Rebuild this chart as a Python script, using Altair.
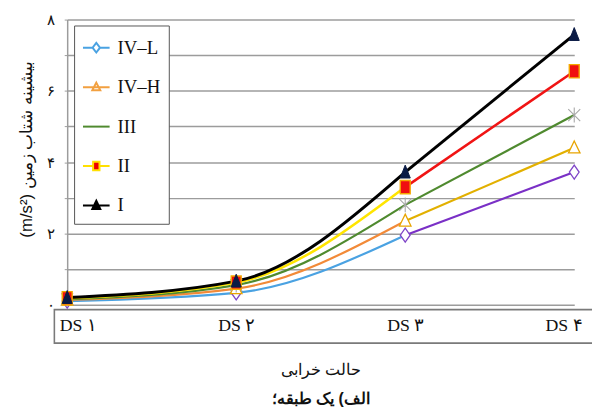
import json
import altair as alt
import pandas as pd

# ---------------- data ----------------
ds_labels = ["DS ۱", "DS ۲", "DS ۳", "DS ۴"]
series_names = ["IV–L", "IV–H", "III", "II", "I"]
values_IVL = [0.10, 0.33, 1.95, 3.72]
values_IVH = [0.13, 0.45, 2.35, 4.40]
values_III = [0.15, 0.55, 2.80, 5.32]
values_II = [0.18, 0.62, 3.30, 6.55]
values_I = [0.20, 0.66, 3.72, 7.58]
y_tick_values = [0, 1, 2, 3, 4, 5, 6, 7, 8]
y_tick_labels = ["۰", "", "۲", "", "۴", "", "۶", "", "۸"]

x_title = "حالت خرابی"
y_title = "\u202bبیشینه شتاب زمین (m/s²)\u202c"
caption = "الف) یک طبقه؛"

series_values = {
    "IV–L": values_IVL,
    "IV–H": values_IVH,
    "III": values_III,
    "II": values_II,
    "I": values_I,
}

# ---------------- styles ----------------
color_early = {"IV–L": "#4aa2e2", "IV–H": "#f28a38", "III": "#4f8a2f", "II": "#ffe500", "I": "#000000"}
color_late = {"IV–L": "#7a30c6", "IV–H": "#e2b000", "III": "#4f8a2f", "II": "#f01414", "I": "#000000"}
line_width = {"IV–L": 2.2, "IV–H": 2.2, "III": 2.2, "II": 2.6, "I": 3.0}
marker_style = {
    "IV–L": dict(shape="M0,-1L0.7,0L0,1L-0.7,0Z", fill="#ffffff", stroke="#7f45c8", size=200, strokeWidth=1.3),
    "IV–H": dict(shape="M0,-1L0.85,0.75L-0.85,0.75Z", fill="#ffffff", stroke="#e8a400", size=190, strokeWidth=1.3),
    "III": dict(shape="M-0.8,-0.8L0.8,0.8M-0.8,0.8L0.8,-0.8M0,-1L0,1", fill="transparent", stroke="#a8a8a8", size=230, strokeWidth=1.1),
    "II": dict(shape="M-0.75,-1H0.75V1H-0.75Z", fill="#f01010", stroke="#f5a800", size=180, strokeWidth=1.4),
    "I": dict(shape="M0,-1L0.72,0.85L-0.72,0.85Z", fill="#0b1b45", stroke="#0b1b45", size=200, strokeWidth=1.0),
}
legend_paths = [
    "M-1,0H-0.28M0.28,0H1M0,-0.36L0.28,0L0,0.36L-0.28,0Z",
    "M-1,0H1M0,-0.34L0.3,0.24L-0.3,0.24Z",
    "M-1,0H1",
    "M-1,0H-0.24M0.24,0H1M-0.24,-0.32H0.24V0.32H-0.24Z",
    "M-1,0H1M0,-0.36L0.3,0.26L-0.3,0.26Z",
]
legend_strokes = ["#4aa2e2", "#f2a040", "#4f8a2f", "#ffe000", "#000000"]
legend_fills = ["#ffffff", "#ffffff", "transparent", "#ee0000", "#000000"]

W, H = 514, 289

rows = []
for s in series_names:
    for i, (d, v) in enumerate(zip(ds_labels, series_values[s])):
        rows.append({"series": s, "ds": d, "idx": i, "value": v})
df = pd.DataFrame(rows)

label_expr = json.dumps(y_tick_labels) + "[datum.value]"

x_enc = alt.X(
    "ds:N",
    sort=ds_labels,
    scale=alt.Scale(domain=ds_labels, padding=0),
    axis=alt.Axis(
        title=x_title,
        grid=False,
        domain=False,
        ticks=False,
        labelAngle=0,
        labelPadding=12,
        labelFont="Liberation Serif",
        labelFontSize=18,
        labelColor="#111",
        labelFlush=True,
        labelFlushOffset=8,
        titleFontSize=16,
        titleFontWeight="normal",
        titleColor="#111",
        titlePadding=28,
    ),
)
y_enc = alt.Y(
    "value:Q",
    scale=alt.Scale(domain=[0, 8], nice=False, zero=True),
    axis=alt.Axis(
        title=y_title,
        values=y_tick_values,
        labelExpr=label_expr,
        grid=True,
        gridColor="#9c9c9c",
        gridWidth=1.5,
        domain=True,
        domainColor="#9c9c9c",
        domainWidth=1.5,
        ticks=True,
        tickSize=3,
        tickColor="#9c9c9c",
        labelPadding=10,
        labelFontSize=15,
        labelColor="#111",
        titleFontSize=17,
        titleFontWeight="normal",
        titleColor="#111",
        titleX=-32,
        titleY=131,
    ),
)

layers = []

# frame around the x-axis labels (decoration)
box = alt.Chart(alt.Data(values=[{}])).mark_rect(
    fill="transparent", stroke="#7a7a7a", strokeWidth=1.6
).encode(
    x=alt.value(-13), x2=alt.value(W + 40), y=alt.value(H + 5), y2=alt.value(H + 39)
)
layers.append(box)

for s in series_names:
    sub = df[df.series == s]
    early = sub[sub.idx <= 2]
    late = sub[sub.idx >= 2]
    layers.append(
        alt.Chart(early).mark_line(
            interpolate="monotone", color=color_early[s], strokeWidth=line_width[s]
        ).encode(x=x_enc, y=y_enc)
    )
    layers.append(
        alt.Chart(late).mark_line(color=color_late[s], strokeWidth=line_width[s]).encode(x=x_enc, y=y_enc)
    )

for s in series_names:
    sub = df[df.series == s]
    m = marker_style[s]
    layers.append(
        alt.Chart(sub).mark_point(
            shape=m["shape"], fill=m["fill"], stroke=m["stroke"], size=m["size"],
            strokeWidth=m["strokeWidth"], opacity=1, fillOpacity=1,
        ).encode(x=x_enc, y=y_enc)
    )

leg = alt.Legend(title=None, orient="none", legendX=7, legendY=6)
legend_layer = alt.Chart(df).mark_point(opacity=1).encode(
    x=x_enc,
    y=y_enc,
    shape=alt.Shape("series:N", scale=alt.Scale(domain=series_names, range=legend_paths), legend=leg),
    stroke=alt.Stroke("series:N", scale=alt.Scale(domain=series_names, range=legend_strokes), legend=leg),
    fill=alt.Fill("series:N", scale=alt.Scale(domain=series_names, range=legend_fills), legend=leg),
).transform_filter("false")
layers.append(legend_layer)

chart = alt.layer(*layers).properties(
    width=W,
    height=H,
    autosize=alt.AutoSizeParams(type="none"),
    padding={"left": 60, "top": 9, "right": 18, "bottom": 101},
    title=alt.TitleParams(
        text=caption, orient="bottom", fontSize=16, fontWeight="bold", color="#111", offset=14, anchor="middle"
    ),
).configure_view(stroke=None).configure_legend(
    symbolSize=729,
    symbolStrokeWidth=2,
    labelFont="Liberation Serif",
    labelFontSize=19,
    labelColor="#111",
    labelOffset=7,
    rowPadding=15,
    padding=8,
    strokeColor="#555",
    fillColor="#ffffff",
    symbolOpacity=1,
)

chart.save("out.html", embed_options={"renderer": "svg", "actions": False})
